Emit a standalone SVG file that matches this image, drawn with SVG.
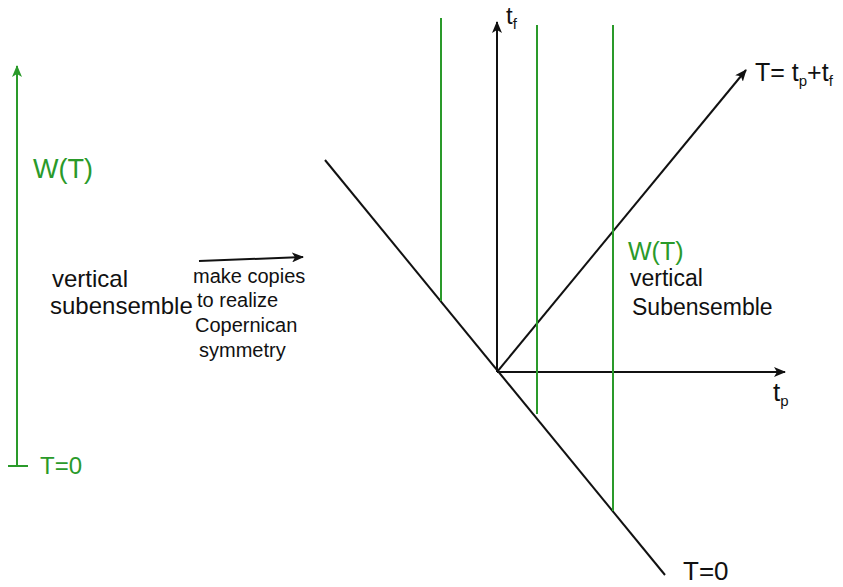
<svg xmlns="http://www.w3.org/2000/svg" width="843" height="587" viewBox="0 0 843 587">
<style>
.k{stroke:#111;stroke-width:2;fill:none}
.g{stroke:#2a9a2a;stroke-width:2;fill:none}
text{font-family:"Liberation Sans",Arial,sans-serif;fill:#111}
.gt{fill:#2a9a2a}
.sub{font-size:15px}
.m{font-size:20px}
</style>
<defs>
<marker id="ak" markerWidth="12" markerHeight="10" refX="11" refY="5" orient="auto" markerUnits="userSpaceOnUse"><path d="M0,0 L12,5 L0,10 L3,5 Z" fill="#111"/></marker>
<marker id="ag" markerWidth="12" markerHeight="10" refX="11" refY="5" orient="auto" markerUnits="userSpaceOnUse"><path d="M0,0 L12,5 L0,10 L3,5 Z" fill="#2a9a2a"/></marker>
</defs>
<g id="connectors">
<line class="g" x1="17" y1="466" x2="17" y2="66" marker-end="url(#ag)"/>
<line class="g" x1="8" y1="466" x2="28" y2="466"/>
<line class="k" x1="199" y1="261" x2="303" y2="257" marker-end="url(#ak)"/>
<line class="k" x1="325" y1="160" x2="665" y2="575"/>
<line class="k" x1="497" y1="372" x2="497" y2="22" marker-end="url(#ak)"/>
<line class="k" x1="497" y1="372" x2="785" y2="372" marker-end="url(#ak)"/>
<line class="k" x1="497" y1="372" x2="746" y2="70" marker-end="url(#ak)"/>
<line class="g" x1="441" y1="18" x2="441" y2="301"/>
<line class="g" x1="537" y1="25" x2="537" y2="414"/>
<line class="g" x1="613" y1="25" x2="613" y2="511"/>
</g>
<g id="left-labels">
<text class="gt" x="33" y="178" style="font-size:27px">W(T)</text>
<text class="gt" x="40" y="474" style="font-size:24px">T=0</text>
<text x="52" y="287" style="font-size:24px">vertical</text>
<text x="50" y="314" style="font-size:24px">subensemble</text>
</g>
<g id="copy-label">
<text class="m" x="193" y="283">make copies</text>
<text class="m" x="197" y="307">to realize</text>
<text class="m" x="195" y="332">Copernican</text>
<text class="m" x="199" y="357">symmetry</text>
</g>
<g id="axis-labels">
<text x="506" y="24" style="font-size:24px">t<tspan class="sub" dy="5">f</tspan></text>
<text x="773" y="401" style="font-size:26px">t<tspan class="sub" dy="5">p</tspan></text>
<text x="755" y="81" style="font-size:25px">T= t<tspan class="sub" dy="5">p</tspan><tspan dy="-5">+t</tspan><tspan class="sub" dy="5">f</tspan></text>
<text x="683" y="580" style="font-size:26px">T=0</text>
</g>
<g id="right-labels">
<text class="gt" x="628" y="260" style="font-size:25px">W(T)</text>
<text x="630" y="286" style="font-size:23px">vertical</text>
<text x="632" y="315" style="font-size:23px">Subensemble</text>
</g>
</svg>
